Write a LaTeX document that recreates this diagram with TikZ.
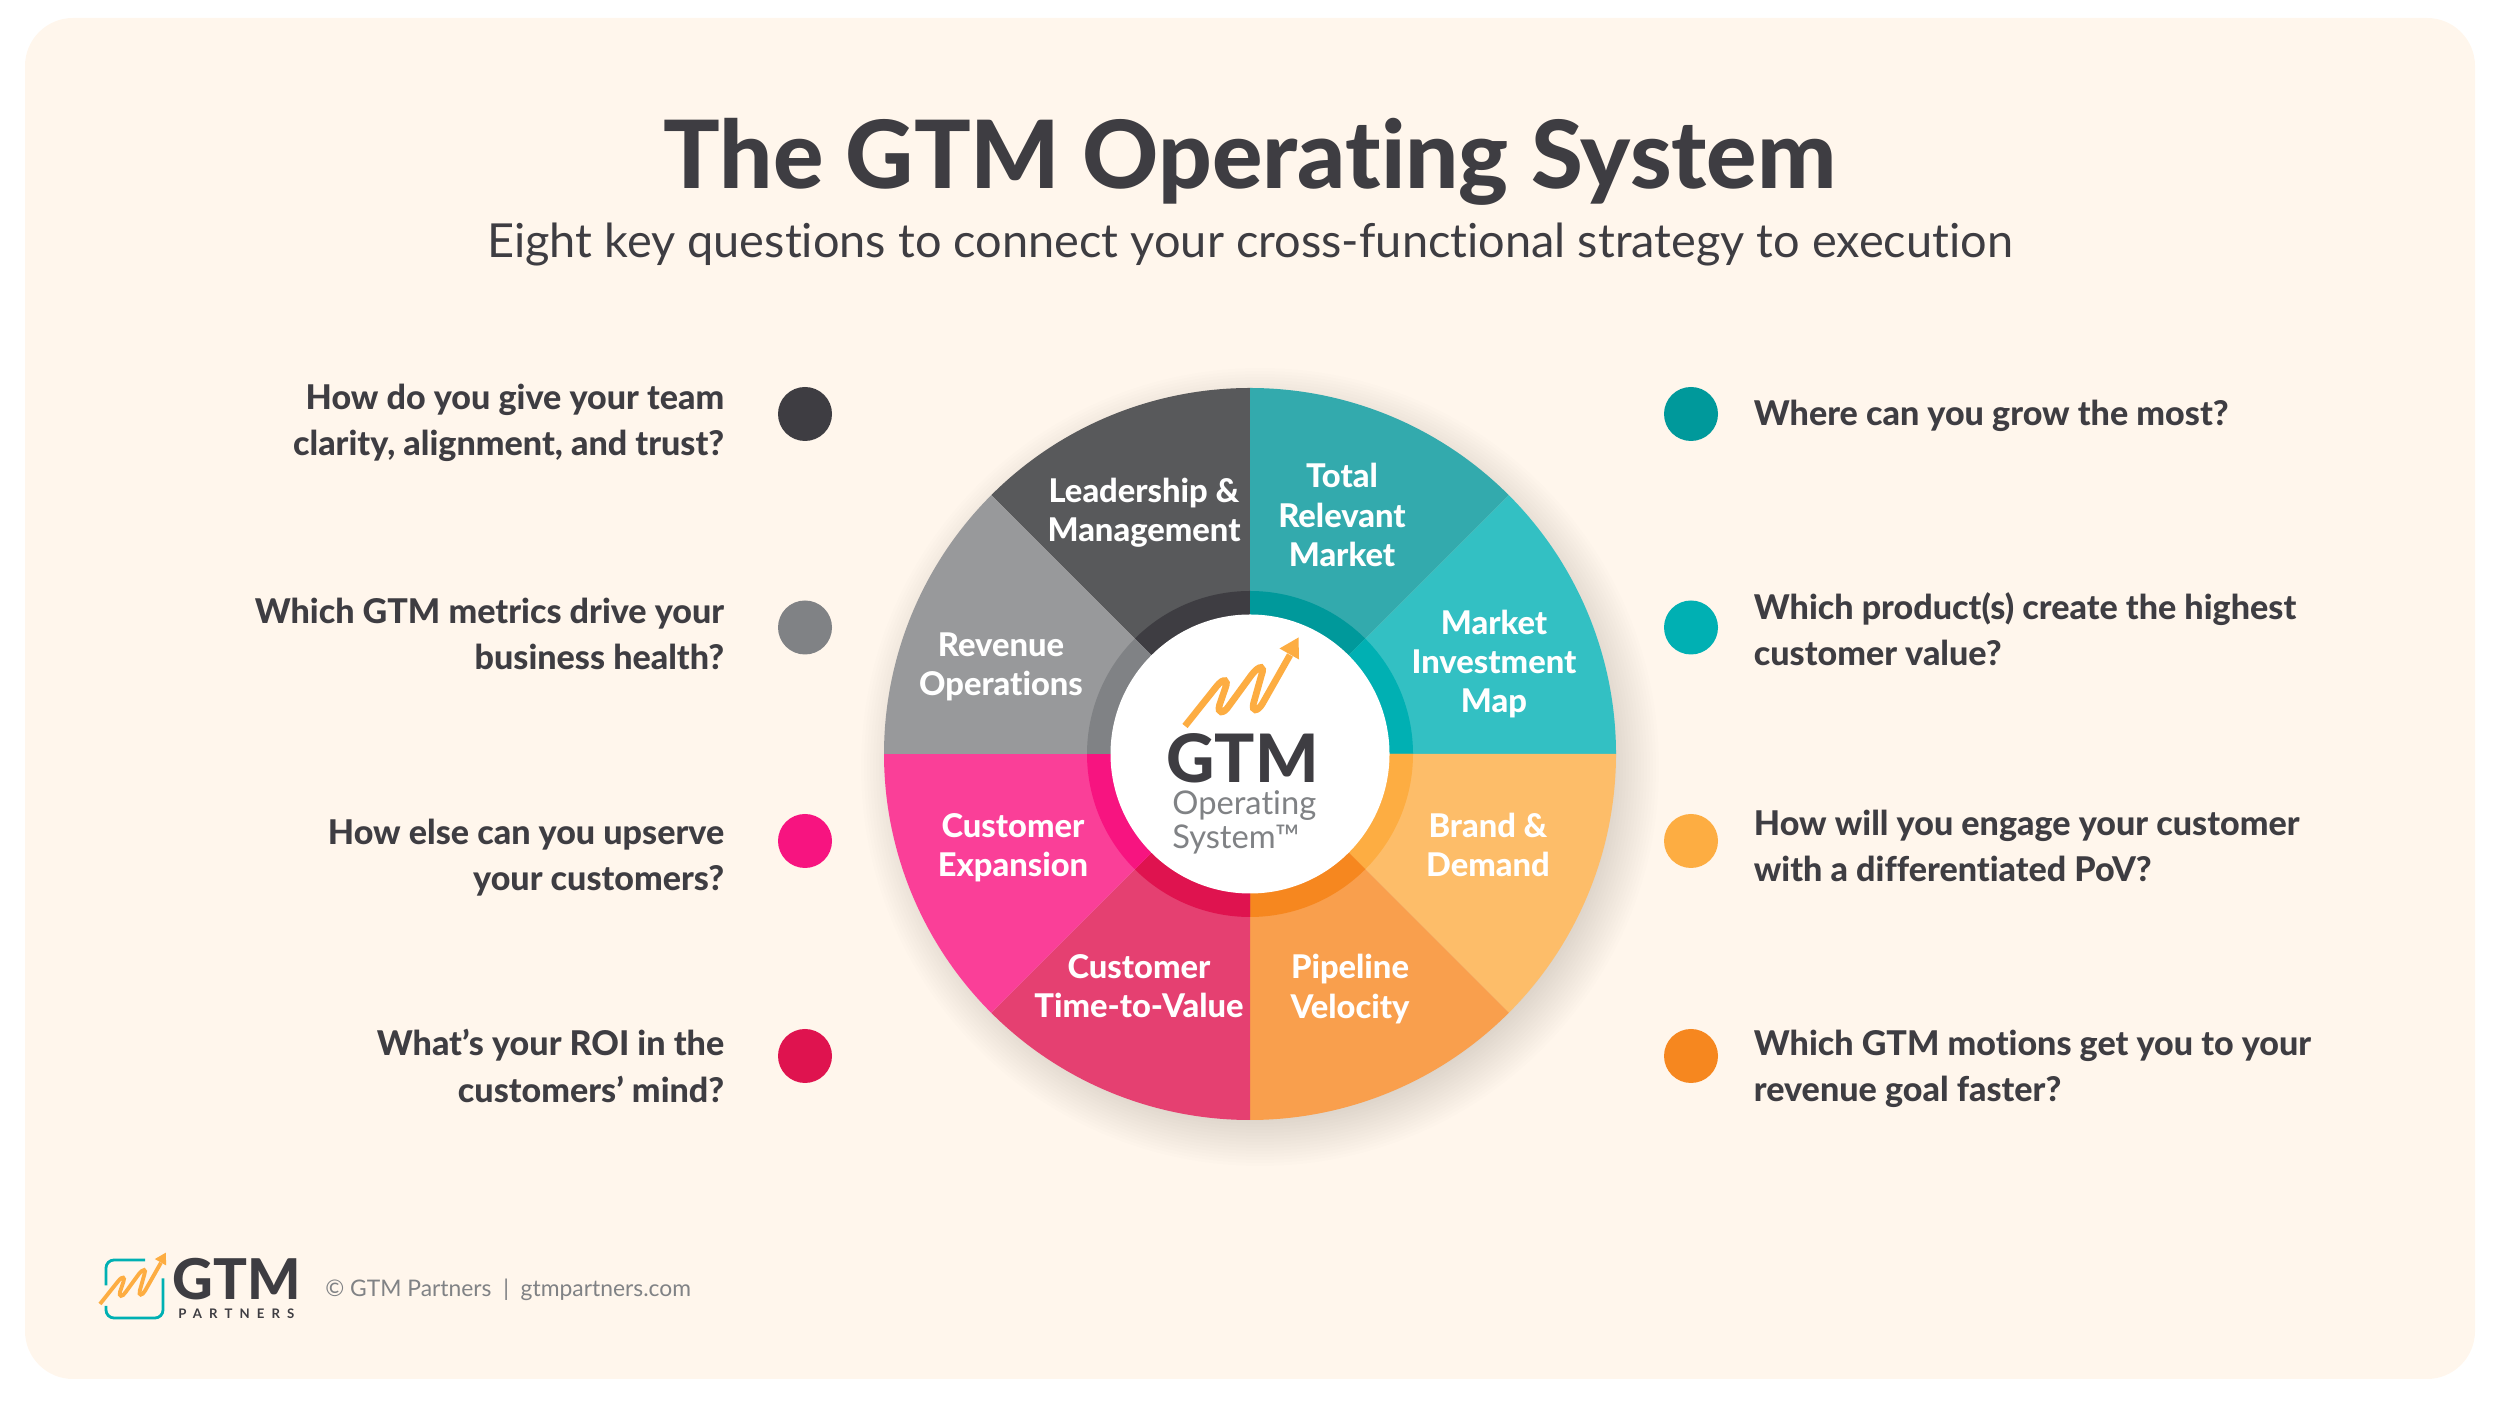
\documentclass[tikz,border=0pt]{standalone}
\usepackage{fontspec}
\setmainfont{Lato}[Ligatures=NoCommon]
\newfontfamily\heavyfont{Lato Heavy}[Ligatures=NoCommon]
\usepackage{xcolor}
\definecolor{card}{HTML}{FFF6EC}
\definecolor{ink}{HTML}{3E3D42}
\definecolor{grayink}{HTML}{808285}
\definecolor{lead}{HTML}{58595B}
\definecolor{leadring}{HTML}{3E3D42}
\definecolor{market}{HTML}{33AAAD}
\definecolor{marketring}{HTML}{00999B}
\definecolor{invest}{HTML}{33C0C3}
\definecolor{investring}{HTML}{00B0B3}
\definecolor{brand}{HTML}{FDBD69}
\definecolor{brandring}{HTML}{FDAD42}
\definecolor{pipe}{HTML}{F99F4D}
\definecolor{pipering}{HTML}{F6871F}
\definecolor{timeval}{HTML}{E54071}
\definecolor{timevalring}{HTML}{DF134F}
\definecolor{expan}{HTML}{FA3F98}
\definecolor{expanring}{HTML}{F71480}
\definecolor{revops}{HTML}{98999B}
\definecolor{revopsring}{HTML}{808285}
\tikzset{
    zigzag/.pic = {
        \draw[brandring] (0,0) -- (0.63,0.79)
            .. controls (0.78,0.98) and (0.87,0.92) .. (0.81,0.77)
            -- (0.69,0.42)
            .. controls (0.64,0.24) and (0.77,0.24) .. (0.87,0.39)
            -- (1.33,1.02)
            .. controls (1.5,1.24) and (1.6,1.2) .. (1.53,1.02)
            -- (1.37,0.45)
            .. controls (1.33,0.28) and (1.45,0.28) .. (1.55,0.45)
            -- (2.1,1.42);
        \fill[brandring] (2.27,1.77) -- (1.89,1.55) -- (2.28,1.33) -- cycle;
    }
}
\begin{document}
\begin{tikzpicture}[
            question/.style = {text=ink, font=\fontsize{19.4}{26.5}\selectfont\heavyfont},
            slice/.style = {text=white, align=center, font=\fontsize{18.6}{22.4}\selectfont\heavyfont},
            dot/.style = {circle, minimum size = 1.08cm, inner sep=0pt}]
        \useasboundingbox (0,0) rectangle (50,28.12);

        % Card
        \fill[card, rounded corners=0.96cm] (0.5,0.54) rectangle (49.5,27.76);

        % Title
        \node[text=ink, anchor=base, font=\fontsize{53.6}{60}\selectfont\heavyfont] (title) at (25.0,24.34) {The GTM Operating System};
        \node[text=ink, anchor=base, font=\fontsize{26.7}{32}\selectfont] (subtitle) at (25.0,22.96) {Eight key questions to connect your cross-functional strategy to execution};

        % Shadow
        \foreach \r in {0,...,18}
            \fill[black, opacity=0.008] (25.2,12.78) circle({6.9+0.06*\r});

        % Wheel
        \foreach \a/\col/\rng in {90/lead/leadring, 45/market/marketring, 0/invest/investring,
                -45/brand/brandring, -90/pipe/pipering, -135/timeval/timevalring,
                180/expan/expanring, 135/revops/revopsring} {
            \fill[\col] (25,13.04) -- ++(\a:7.32) arc (\a:\a+45:7.32) -- cycle;
            \fill[\rng] (25,13.04) -- ++(\a:3.26) arc (\a:\a+45:3.26) -- cycle;
        }
        \node[circle, fill=white, minimum size=5.58cm, inner sep=0pt] (hub) at (25,13.04) {};

        % Wheel labels
        \node[slice] (s1) at (22.88,17.86) {Leadership \&\\Management};
        \node[slice] (s2) at (26.84,17.82) {Total\\Relevant\\Market};
        \node[slice] (s3) at (29.88,14.84) {Market\\Investment\\Map};
        \node[slice] (s4) at (29.76,11.22) {Brand \&\\Demand};
        \node[slice] (s5) at (27.0,8.34) {Pipeline\\Velocity};
        \node[slice] (s6) at (22.78,8.4) {Customer\\Time-to-Value};
        \node[slice] (s7) at (20.26,11.16) {Customer\\Expansion};
        \node[slice] (s8) at (20.02,14.78) {Revenue\\Operations};

        % Hub logo
        \pic[line width=3.8pt] (hubarrow) at (23.7,13.6) {zigzag};
        \node[text=ink, anchor=base, inner sep=0pt, font=\fontsize{38}{40}\selectfont\heavyfont] (hubgtm) at (24.85,12.46) {GTM};
        \node[text=grayink, anchor=base west, inner sep=0pt, font=\fontsize{18.6}{22}\selectfont] (hubop) at (23.44,11.82) {Operating};
        \node[text=grayink, anchor=base west, inner sep=0pt, font=\fontsize{18.6}{22}\selectfont] (hubsys) at (23.44,11.14) {System™};

        % Dots and questions, left
        \foreach \n/\y/\ty/\col/\txt in {1/19.84/19.66/leadring/{How do you give your team\\clarity, alignment, and trust?},
                2/15.57/15.44/revopsring/{Which GTM metrics drive your\\business health?},
                3/11.3/10.97/expanring/{How else can you upserve\\your customers?},
                4/7.0/6.8/timevalring/{What’s your ROI in the\\customers’ mind?}} {
            \node[dot, fill=\col] (ldot\n) at (16.1,\y) {};
            \node[question, anchor=east, align=right, inner sep=0pt] (lq\n) at (14.49,\ty) {\txt};
        }

        % Dots and questions, right
        \foreach \n/\y/\ty/\col/\txt in {1/19.84/19.8/marketring/{Where can you grow the most?},
                2/15.57/15.54/investring/{Which product(s) create the highest\\customer value?},
                3/11.3/11.2/brandring/{How will you engage your customer\\with a differentiated PoV?},
                4/7.0/6.74/pipering/{Which GTM motions get you to your\\revenue goal faster?}} {
            \node[dot, fill=\col] (rdot\n) at (33.82,\y) {};
            \node[question, anchor=west, align=left, inner sep=0pt] (rq\n) at (35.07,\ty) {\txt};
        }

        % Footer logo
        \draw[investring, line width=1.6pt, rounded corners=0.16cm] (2.9,2.92) -- (2.12,2.92) -- (2.12,2.41);
        \draw[investring, line width=1.6pt, rounded corners=0.16cm] (2.12,2.0) -- (2.12,1.76) -- (3.26,1.76) -- (3.26,2.55);
        \pic[scale=0.58, line width=2.2pt] (footarrow) at (2.0,2.04) {zigzag};
        \node[text=ink, anchor=base west, inner sep=0pt, font=\fontsize{32}{34}\selectfont\heavyfont] (footgtm) at (3.44,2.12) {GTM};
        \node[text=ink, anchor=base west, inner sep=0pt, font=\fontsize{7.5}{9}\selectfont\bfseries\addfontfeatures{LetterSpace=54}] (footpart) at (3.56,1.74) {PARTNERS};
        \node[text=grayink, anchor=base west, inner sep=0pt, font=\fontsize{13}{16}\selectfont] (footer) at (6.5,2.18) {© GTM Partners~~|~~gtmpartners.com};
    \end{tikzpicture}
\end{document}
